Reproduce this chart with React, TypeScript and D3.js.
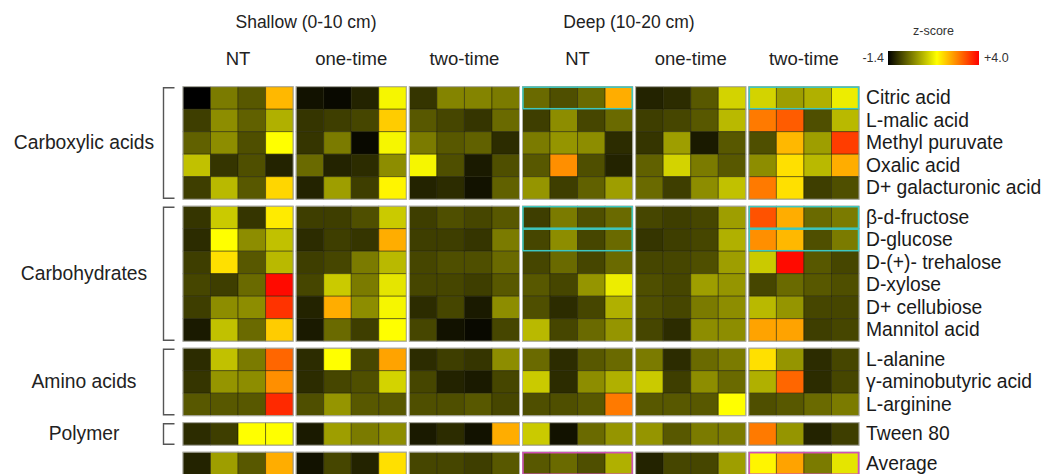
import React from "react";
import * as d3 from "d3";

// ---- data ----
const depthLabels = ["Shallow (0-10 cm)", "Deep (10-20 cm)"];
const treatmentLabels = ["NT", "one-time", "two-time"];
const groupKeys = ["S-NT", "S-one", "S-two", "D-NT", "D-one", "D-two"];
const replicates = ["r1", "r2", "r3", "r4"];

const substrates = [
  "Citric acid", "L-malic acid", "Methyl puruvate", "Oxalic acid", "D+ galacturonic acid",
  "β-d-fructose", "D-glucose", "D-(+)- trehalose", "D-xylose", "D+ cellubiose", "Mannitol acid",
  "L-alanine", "γ-aminobutyric acid", "L-arginine",
  "Tween 80",
  "Average",
];
const substrateClasses = ["Carboxylic acids", "Carbohydrates", "Amino acids", "Polymer", ""];
const classSizes = [5, 6, 3, 1, 1];

// z-scores: each row = 24 columns (6 groups x 4 replicates)
const zScores = [
  [-1.4, 0.0, -0.4, 2.2, -1.2, -1.3, -1.0, 1.4, -0.8, 0.1, 0.1, 0.0, -0.2, -0.5, -0.2, 2.3, -1.0, -0.9, -0.4, 1.0, 1.0, 0.4, 0.6, 1.3],
  [-0.7, 0.2, -0.3, 0.6, -0.8, -0.7, -0.6, 2.0, -0.4, -0.6, -0.8, -0.2, -0.7, 0.2, -0.6, -0.2, -0.7, -0.6, -0.4, 0.7, 2.8, 3.1, -0.5, 0.7],
  [-0.3, 0.2, -0.5, 1.5, -0.8, 0.0, -1.3, 1.4, 0.0, -0.4, -0.3, -0.9, 0.0, 0.3, 0.2, -0.9, -0.8, 0.4, -1.1, -0.4, -0.5, 2.2, 0.4, 3.4],
  [0.8, -0.8, -0.5, -1.0, -0.2, -1.0, -0.9, 0.2, 1.4, -0.5, -1.1, -0.5, -0.4, 2.6, -0.5, -1.0, -0.3, 1.0, 0.0, -0.4, 0.2, 1.8, 0.7, 2.3],
  [-0.7, 0.7, -0.4, 1.9, -1.0, 0.4, -0.7, 1.6, -1.0, -0.9, -1.2, -0.3, 0.3, -0.7, -0.3, 0.4, -0.2, -0.7, 0.2, 0.8, 2.8, 1.8, -0.7, -0.5],
  [-0.8, 0.9, -0.8, 1.7, -0.7, -0.7, -0.5, 0.9, -0.7, -0.5, -0.6, -0.4, -0.7, 0.0, -0.5, -0.2, -0.6, -0.7, -0.6, 0.4, 3.2, 2.3, -0.2, 0.0],
  [-0.9, 1.5, 0.2, 0.8, -0.9, -0.7, -0.8, 2.3, -0.7, -0.7, -0.8, 0.0, -0.6, 0.2, -0.6, -0.2, -0.8, -0.7, -0.6, 0.6, 2.6, 2.2, -0.5, 0.0],
  [-0.7, 1.8, -0.4, 0.7, -0.7, -0.6, 0.0, 0.7, -0.6, -0.5, -0.5, -0.2, -0.6, -0.2, -0.6, -0.2, -0.6, -0.6, -0.5, 0.4, 0.9, 3.9, -0.4, -0.6],
  [-0.6, -0.7, -0.2, 3.9, -0.6, 0.9, 0.0, 1.2, -0.6, -0.6, -0.7, -0.4, -0.4, -0.6, 0.3, 1.3, -0.5, -0.6, 0.4, 0.3, -0.6, -0.2, -0.4, -0.5],
  [-0.7, 0.2, 0.2, 3.5, -1.0, 2.3, 0.2, 1.4, -0.9, -0.6, -1.1, 0.2, -0.5, -0.9, -0.6, 0.6, -0.5, -0.6, 0.0, 0.2, 0.7, 0.3, -0.6, -0.6],
  [-1.1, 0.8, -0.2, 2.0, -1.1, -0.2, -0.7, 1.5, -0.6, -1.2, -1.3, -0.6, 0.7, -0.6, -0.2, 0.3, -0.6, -0.9, 0.2, 0.2, 2.4, 2.4, -0.7, -0.6],
  [-0.9, 0.8, 0.0, 3.0, -0.9, 1.5, -0.6, 2.4, -0.9, -0.7, -0.8, 0.2, -0.2, -0.9, -0.4, -0.2, 0.0, -0.9, -0.2, 0.0, 1.8, 0.3, -0.9, -0.6],
  [-0.8, 0.3, 0.2, 2.6, -0.9, -0.6, -0.5, 1.0, -0.6, -1.0, -1.1, -0.6, 0.9, -0.9, 0.2, 0.6, 0.9, -0.7, 0.2, -0.2, 0.6, 3.0, -0.9, -0.6],
  [-0.4, -0.4, -0.4, 3.6, -0.5, 0.3, -0.4, -0.4, -0.5, -0.5, -0.4, -0.6, -0.5, -0.5, -0.4, 2.8, -0.4, -0.4, -0.4, 1.5, -0.5, -0.4, -0.2, 0.0],
  [-0.9, -0.7, 1.5, 1.5, -1.1, 0.4, 0.0, 0.2, -1.1, -0.9, -1.2, 2.3, 0.9, -1.2, -0.2, 0.3, 0.3, -0.4, 0.0, 0.0, 2.8, 0.3, -1.0, -0.7],
  [-1.0, 0.4, -0.4, 2.3, -1.2, -0.6, -1.0, 1.8, -0.6, -0.6, -0.7, -0.4, -0.4, -0.2, -0.5, 0.6, -1.0, -0.6, -0.6, 0.4, 1.6, 2.4, 0.0, 1.2],
];

// highlighted row boxes: row index, group index, kind
const highlightRows = [0, 0, 5, 5, 6, 6, 15, 15];
const highlightGroups = [3, 5, 3, 5, 3, 5, 3, 5];
const highlightKinds = ["cyan", "cyan", "cyan", "cyan", "cyan", "cyan", "magenta", "magenta"];

const legendMin = -1.4;
const legendMid = 1.5;
const legendMax = 4.0;

// ---- layout ----
const W = 1049;
const H = 474;
const heatLeft = 183;
const heatRight = 859;
const heatTop = 86.7;
const rowH = 22.5;
const classGap = 7;
const titleX = [306, 629];
const FONT = "'Liberation Sans', Arial, Helvetica, sans-serif";

export default function App() {
  const gx = d3.scaleBand<string>().domain(groupKeys).range([heatLeft, heatRight]).paddingInner(0.0265);
  const rx = d3.scaleBand<string>().domain(replicates).range([0, gx.bandwidth()]);
  const yLin = d3.scaleLinear().domain([0, substrates.length]).range([heatTop, heatTop + substrates.length * rowH]);
  const color = d3
    .scaleLinear<string>()
    .domain([legendMin, legendMid, legendMax])
    .range(["#000000", "#ffff00", "#ff0000"])
    .clamp(true);

  const classStart: number[] = [];
  const rowClass: number[] = [];
  let acc = 0;
  classSizes.forEach((n, ci) => {
    classStart.push(acc);
    for (let k = 0; k < n; k++) rowClass.push(ci);
    acc += n;
  });
  const rowY = (i: number) => yLin(i) + rowClass[i] * classGap;

  const legendX0 = 888;
  const legendX1 = 979;
  const lx = d3.scaleLinear().domain([legendMin, legendMax]).range([legendX0, legendX1]);

  return (
    <svg width={W} height={H} style={{ position: "fixed", left: 0, top: 0, background: "#fff" }} fontFamily={FONT}>
      <defs>
        <linearGradient id="zgrad" x1="0" x2="1" y1="0" y2="0">
          {[legendMin, legendMid, legendMax].map((v) => (
            <stop key={v} offset={`${((lx(v) - legendX0) / (legendX1 - legendX0)) * 100}%`} stopColor={color(v)} />
          ))}
        </linearGradient>
      </defs>

      {/* depth titles */}
      {depthLabels.map((t, d) => (
        <text key={t} x={titleX[d]} y={22} textAnchor="middle" dominantBaseline="central" fontSize={17.5} fill="#222">
          {t}
        </text>
      ))}
      {/* treatment headers */}
      {groupKeys.map((g, gi) => (
        <text
          key={g}
          x={gx(g)! + gx.bandwidth() / 2}
          y={58}
          textAnchor="middle"
          dominantBaseline="central"
          fontSize={18.5}
          fill="#222"
        >
          {treatmentLabels[gi % 3]}
        </text>
      ))}

      {/* legend */}
      <text x={(legendX0 + legendX1) / 2} y={31} textAnchor="middle" dominantBaseline="central" fontSize={12.5} fill="#333">
        z-score
      </text>
      <rect x={legendX0} y={51} width={legendX1 - legendX0} height={14} fill="url(#zgrad)" />
      <text x={legendX0 - 4} y={58} textAnchor="end" dominantBaseline="central" fontSize={12.5} fill="#333">
        {legendMin.toFixed(1)}
      </text>
      <text x={legendX1 + 5} y={58} textAnchor="start" dominantBaseline="central" fontSize={12.5} fill="#333">
        {"+" + legendMax.toFixed(1)}
      </text>

      {/* cells */}
      {zScores.map((row, i) =>
        row.map((v, j) => {
          const g = groupKeys[Math.floor(j / 4)];
          const r = replicates[j % 4];
          return (
            <rect
              key={`${i}-${j}`}
              x={gx(g)! + rx(r)!}
              y={rowY(i)}
              width={rx.bandwidth()}
              height={rowH}
              fill={color(v)}
              stroke="rgba(30,30,0,0.55)"
              strokeWidth={0.9}
            />
          );
        })
      )}

      {/* group outlines per class block */}
      {classSizes.map((n, ci) =>
        groupKeys.map((g) => (
          <rect
            key={`o-${ci}-${g}`}
            x={gx(g)!}
            y={rowY(classStart[ci])}
            width={gx.bandwidth()}
            height={n * rowH}
            fill="none"
            stroke="#b8b8b0"
            strokeWidth={0.9}
          />
        ))
      )}

      {/* highlight boxes */}
      {highlightRows.map((ri, k) => {
        const g = groupKeys[highlightGroups[k]];
        return (
          <rect
            key={`h-${k}`}
            x={gx(g)! + 0.5}
            y={rowY(ri) + 0.5}
            width={gx.bandwidth() - 1}
            height={rowH - 1}
            fill="none"
            stroke={highlightKinds[k] === "cyan" ? "#3ec8c0" : "#d050b8"}
            strokeWidth={1.5}
          />
        );
      })}

      {/* row labels */}
      {substrates.map((s, i) => (
        <text key={s} x={866} y={rowY(i) + rowH / 2} dominantBaseline="central" fontSize={19.3} fill="#1a1a1a">
          {s}
        </text>
      ))}

      {/* class brackets and labels */}
      {classSizes.map((n, ci) => {
        if (!substrateClasses[ci]) return null;
        const y0 = rowY(classStart[ci]) + 1;
        const y1 = rowY(classStart[ci]) + n * rowH - 1;
        const bx = 163.5;
        return (
          <g key={`c-${ci}`}>
            <path
              d={`M${bx + 11},${y0}H${bx}V${y1}H${bx + 11}`}
              fill="none"
              stroke="#555"
              strokeWidth={1.4}
            />
            <text x={84} y={(y0 + y1) / 2} textAnchor="middle" dominantBaseline="central" fontSize={19.3} fill="#222">
              {substrateClasses[ci]}
            </text>
          </g>
        );
      })}
    </svg>
  );
}
